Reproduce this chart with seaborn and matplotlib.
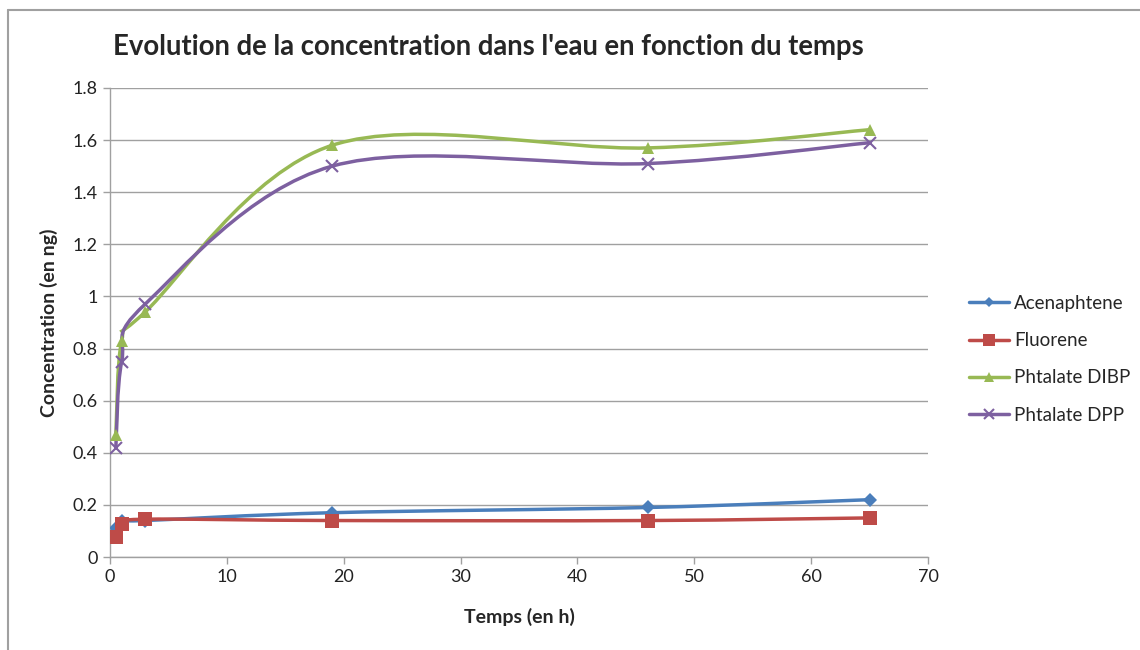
import matplotlib.pyplot as plt
import numpy as np
import pandas as pd
import seaborn as sns
from matplotlib.lines import Line2D
from matplotlib.patches import PathPatch
from matplotlib.path import Path

# data
temps = [0.5, 1, 3, 19, 46, 65]
acenaphtene = [0.11, 0.14, 0.14, 0.17, 0.19, 0.22]
fluorene = [0.075, 0.125, 0.145, 0.14, 0.14, 0.15]
phtalate_dibp = [0.47, 0.83, 0.94, 1.58, 1.57, 1.64]
phtalate_dpp = [0.42, 0.75, 0.97, 1.50, 1.51, 1.59]

series_names = ["Acenaphtene", "Fluorene", "Phtalate DIBP", "Phtalate DPP"]
series_values = [acenaphtene, fluorene, phtalate_dibp, phtalate_dpp]
colors = ["#4A7EBB", "#BE4B48", "#98B954", "#7D60A0"]
markers = ["D", "s", "^", "x"]
marker_sizes = [7, 10, 9, 9]

y_ticks = [0, 0.2, 0.4, 0.6, 0.8, 1, 1.2, 1.4, 1.6, 1.8]
y_labels = ["0", "0.2", "0.4", "0.6", "0.8", "1", "1.2", "1.4", "1.6", "1.8"]
x_ticks = [0, 10, 20, 30, 40, 50, 60, 70]

sns.set_theme(style="white")
plt.rcParams["font.family"] = ["Lato", "DejaVu Sans"]


def smooth_path(xs, ys):
    """Excel-like smoothed line: cubic Bezier segments through the points."""
    pts = np.column_stack([xs, ys]).astype(float)
    verts = [pts[0]]
    codes = [Path.MOVETO]
    n = len(pts)
    for i in range(n - 1):
        p0 = pts[i - 1] if i > 0 else pts[i]
        p1 = pts[i]
        p2 = pts[i + 1]
        p3 = pts[i + 2] if i + 2 < n else pts[i + 1]
        c1 = p1 + (p2 - p0) / 6
        c2 = p2 - (p3 - p1) / 6
        verts += [c1, c2, p2]
        codes += [Path.CURVE4] * 3
    return Path(verts, codes)


frames = []
for name, vals in zip(series_names, series_values):
    frames.append(pd.DataFrame({"temps": temps, "valeur": vals, "serie": name}))
df = pd.concat(frames, ignore_index=True)

fig = plt.figure(figsize=(11.4, 6.5), dpi=100)
ax = fig.add_axes([110 / 1140, 1 - 557 / 650, (928 - 110) / 1140, (557 - 88) / 650])

for name, color, marker, ms in zip(series_names, colors, markers, marker_sizes):
    sub = df[df["serie"] == name]
    ax.add_patch(PathPatch(smooth_path(sub["temps"], sub["valeur"]), facecolor="none",
                           edgecolor=color, lw=2.5, zorder=3))
    sns.lineplot(data=sub, x="temps", y="valeur", ax=ax, color=color, marker=marker,
                 markersize=ms, markeredgewidth=1.5 if marker == "x" else 0,
                 markeredgecolor=color, linestyle="none", zorder=4, legend=False)

ax.set_xlim(0, 70)
ax.set_ylim(0, 1.8)
ax.set_xticks(x_ticks)
ax.set_yticks(y_ticks)
ax.set_yticklabels(y_labels)
ax.yaxis.grid(True, color="#A0A0A0", lw=1)
ax.xaxis.grid(False)
for side in ["top", "right"]:
    ax.spines[side].set_visible(False)
for side in ["left", "bottom"]:
    ax.spines[side].set_color("#A0A0A0")
    ax.spines[side].set_linewidth(1)
ax.tick_params(axis="both", direction="out", length=5, width=1, color="#A0A0A0",
               labelsize=13, labelcolor="#222222", pad=4, left=True, bottom=True)

ax.set_xlabel("Temps (en h)", fontsize=14, fontweight="bold", labelpad=16)
ax.set_ylabel("Concentration (en ng)", fontsize=14, fontweight="bold", labelpad=10)
fig.text(113 / 1140, 1 - 47 / 650, "Evolution de la concentration dans l'eau en fonction du temps",
         fontsize=19.8, fontweight="bold", va="center", ha="left")

handles = [Line2D([0], [0], color=c, lw=2.5, marker=m, markersize=s * 0.8,
                  markeredgewidth=1.5 if m == "x" else 0, markeredgecolor=c)
           for c, m, s in zip(colors, markers, marker_sizes)]
fig.legend(handles, series_names, loc="upper left", bbox_to_anchor=(969 / 1140, 1 - 295 / 650),
           frameon=False, fontsize=13.5, handlelength=2.15, handletextpad=0.25,
           labelspacing=1.08, borderpad=0, borderaxespad=0)

# outer chart border
fig.add_artist(Line2D([8 / 1140, 1], [1 - 10 / 650, 1 - 10 / 650], color="#A0A0A0", lw=1.5))
fig.add_artist(Line2D([8 / 1140, 8 / 1140], [0, 1 - 10 / 650], color="#A0A0A0", lw=1.5))

fig.savefig("out.png", dpi=100, facecolor="white")
